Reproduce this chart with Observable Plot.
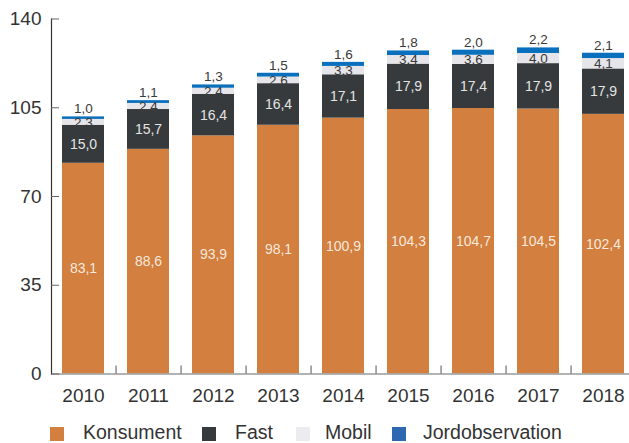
<!DOCTYPE html>
<html>
<head>
<meta charset="utf-8">
<script src="https://cdn.jsdelivr.net/npm/d3@7"></script>
<script src="https://cdn.jsdelivr.net/npm/@observablehq/plot@0.6"></script>
<style>
  body { margin: 0; background: #fff; font-family: "Liberation Sans", Arial, sans-serif; }
  #legend { position: relative; width: 629px; height: 25px; }
  #legend .sw { position: absolute; top: 9px; width: 14px; height: 14px; }
  #legend .lb { position: absolute; top: 3px; font-size: 19.5px; line-height: 22px; color: #333; }
</style>
</head>
<body>
<div id="chart"></div>
<div id="legend"></div>
<script>
const years = ["2010","2011","2012","2013","2014","2015","2016","2017","2018"];
const konsument = [83.1, 88.6, 93.9, 98.1, 100.9, 104.3, 104.7, 104.5, 102.4];
const fast = [15.0, 15.7, 16.4, 16.4, 17.1, 17.9, 17.4, 17.9, 17.9];
const mobil = [2.3, 2.4, 2.4, 2.6, 3.3, 3.4, 3.6, 4.0, 4.1];
const jord = [1.0, 1.1, 1.3, 1.5, 1.6, 1.8, 2.0, 2.2, 2.1];
const seriesNames = ["Konsument", "Fast", "Mobil", "Jordobservation"];
const seriesColors = ["#D27F3F", "#363A3C", "#E6E5EA", "#0A70BD"];
const legendColors = ["#D27F3F", "#363A3C", "#ECEBEF", "#2E68B1"];
const yTicks = [0, 35, 70, 105, 140];

const seriesValues = [konsument, fast, mobil, jord];
const data = [];
seriesNames.forEach((s, si) => years.forEach((y, i) => data.push({year: y, series: s, value: seriesValues[si][i]})));

const fmt = v => v.toFixed(1).replace(".", ",");
const labels = years.map((y, i) => {
  const k = konsument[i], f = fast[i], m = mobil[i], j = jord[i];
  return {year: y, k, f, m, j, kMid: k / 2, fMid: k + f / 2, mMid: k + f + m / 2, top: k + f + m + j};
});

const H = 418;
const plot = Plot.plot({
  width: 629,
  height: H,
  marginTop: 18.5,
  marginBottom: H - 373.5,
  marginLeft: 51,
  marginRight: 0,
  style: {fontFamily: "Liberation Sans, Arial, sans-serif", color: "#333", background: "#fff"},
  x: {domain: years, range: [50.48, 636.4], paddingInner: 0.354, paddingOuter: 0.177, label: null},
  y: {domain: [0, 140], label: null},
  color: {domain: seriesNames, range: seriesColors},
  marks: [
    Plot.barY(data, Plot.stackY({x: "year", y: "value", fill: "series", order: seriesNames})),
    Plot.ruleY([0], {stroke: "#9a9a9a", strokeWidth: 1.5}),
    Plot.ruleX(years.slice(0, -1), {x: d => d, y1: 0, y2: 0, insetTop: -8, dx: 32.55, stroke: "#555", strokeWidth: 1}),
    Plot.frame({anchor: "left", stroke: "#333", strokeWidth: 1.2}),
    Plot.axisY({ticks: yTicks, tickSize: 0, tickPadding: 10, fontSize: 19, tickFormat: d => d, fill: "#333"}),
    Plot.axisY({ticks: yTicks, tickSize: 8, dx: 8, text: null, stroke: "#666"}),
    Plot.axisX({tickSize: 0, tickPadding: 14, fontSize: 19, fill: "#333"}),
    Plot.text(labels, {x: "year", y: "kMid", text: d => fmt(d.k), fill: "#F6E8DC", fontSize: 14}),
    Plot.text(labels, {x: "year", y: "fMid", text: d => fmt(d.f), fill: "#E4E4E4", fontSize: 14}),
    Plot.text(labels, {x: "year", y: "mMid", text: d => fmt(d.m), fill: "#3a3a3a", fontSize: 13.5}),
    Plot.text(labels, {x: "year", y: "top", text: d => fmt(d.j), fill: "#3a3a3a", fontSize: 13.5, dy: -8})
  ]
});
document.getElementById("chart").appendChild(plot);

const legend = document.getElementById("legend");
const swX = [50, 202, 296, 392];
const lbX = [83, 235, 325, 423];
seriesNames.forEach((s, i) => {
  const sw = document.createElement("div");
  sw.className = "sw"; sw.style.left = swX[i] + "px"; sw.style.background = legendColors[i];
  legend.appendChild(sw);
  const lb = document.createElement("div");
  lb.className = "lb"; lb.style.left = lbX[i] + "px"; lb.textContent = s;
  legend.appendChild(lb);
});
</script>
</body>
</html>
